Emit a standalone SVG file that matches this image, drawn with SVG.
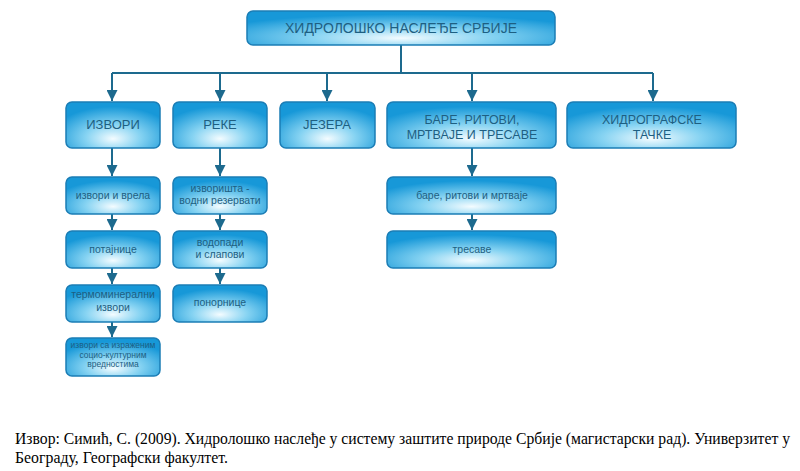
<svg xmlns="http://www.w3.org/2000/svg" width="800" height="471" viewBox="0 0 800 471">
<defs>
<radialGradient id="g" cx="50%" cy="75%" r="65%" fx="50%" fy="80%">
<stop offset="0" stop-color="#f4fcff"/>
<stop offset="0.45" stop-color="#86d3f2"/>
<stop offset="1" stop-color="#1798d8"/>
</radialGradient>
<marker id="ah" markerWidth="12" markerHeight="11" refX="11" refY="5.5" orient="auto" markerUnits="userSpaceOnUse">
<path d="M0,0 L11,5.5 L0,11 Z" fill="#1d6a8e"/>
</marker>
<style>
.b{fill:url(#g);stroke:#1b7db5;stroke-width:1.5}
.t{font-family:"Liberation Sans",Arial,sans-serif;fill:#1e5f82;text-anchor:middle}
.h{font-size:13px}
.h2{font-size:12.5px}
.s{font-size:10.5px}
.c{fill:none;stroke:#1d6a8e;stroke-width:2}
.f{font-family:"Liberation Serif","Times New Roman",serif;font-size:16px;fill:#000}
</style>
</defs>
<g id="connectors">
<path class="c" d="M401,45 V73 M112,73 H653"/>
<path class="c" d="M112,73 V101" marker-end="url(#ah)"/>
<path class="c" d="M220,73 V101" marker-end="url(#ah)"/>
<path class="c" d="M327,73 V101" marker-end="url(#ah)"/>
<path class="c" d="M472,73 V101" marker-end="url(#ah)"/>
<path class="c" d="M653,73 V101" marker-end="url(#ah)"/>
<path class="c" d="M112,148 V176" marker-end="url(#ah)"/>
<path class="c" d="M112,214 V230" marker-end="url(#ah)"/>
<path class="c" d="M112,268 V284" marker-end="url(#ah)"/>
<path class="c" d="M112,322 V337" marker-end="url(#ah)"/>
<path class="c" d="M220,148 V176" marker-end="url(#ah)"/>
<path class="c" d="M220,214 V230" marker-end="url(#ah)"/>
<path class="c" d="M220,268 V284" marker-end="url(#ah)"/>
<path class="c" d="M472,148 V176" marker-end="url(#ah)"/>
<path class="c" d="M472,214 V230" marker-end="url(#ah)"/>
</g>
<g id="root"><rect class="b" x="247" y="11" width="308" height="34" rx="6"/><text class="t" x="401" y="33" font-size="14">ХИДРОЛОШКО НАСЛЕЂЕ СРБИЈЕ</text></g>
<g id="izvori"><rect class="b" x="66" y="102" width="94" height="46" rx="6"/><text class="t h" x="113" y="129">ИЗВОРИ</text></g>
<g id="reke"><rect class="b" x="173" y="102" width="94" height="46" rx="6"/><text class="t h" x="220" y="129">РЕКЕ</text></g>
<g id="jezera"><rect class="b" x="280" y="102" width="95" height="46" rx="6"/><text class="t h" x="327" y="129">ЈЕЗЕРА</text></g>
<g id="bare"><rect class="b" x="387" y="102" width="169" height="46" rx="6"/><text class="t h2" x="472" y="124">БАРЕ, РИТОВИ,</text><text class="t h2" x="472" y="138.5">МРТВАЈЕ И ТРЕСАВЕ</text></g>
<g id="hidro"><rect class="b" x="567" y="102" width="169" height="46" rx="6"/><text class="t h2" x="652" y="124">ХИДРОГРАФСКЕ</text><text class="t h2" x="652" y="138.5">ТАЧКЕ</text></g>
<g id="izvori-vrela"><rect class="b" x="66" y="177" width="94" height="37" rx="6"/><text class="t s" x="113" y="199">извори и врела</text></g>
<g id="potajnice"><rect class="b" x="66" y="231" width="94" height="37" rx="6"/><text class="t s" x="113" y="253">потајнице</text></g>
<g id="termo"><rect class="b" x="66" y="285" width="94" height="37" rx="6"/><text class="t s" x="113" y="298">термоминерални</text><text class="t s" x="113" y="311">извори</text></g>
<g id="socio"><rect class="b" x="66" y="338" width="94" height="38" rx="6"/><text class="t" font-size="8.5" x="113" y="348">извори са израженим</text><text class="t" font-size="8.5" x="113" y="357.5">социо-културним</text><text class="t" font-size="8.5" x="113" y="367">вредностима</text></g>
<g id="izvorista"><rect class="b" x="173" y="177" width="94" height="37" rx="6"/><text class="t s" x="220" y="192">изворишта -</text><text class="t s" x="220" y="204">водни резервати</text></g>
<g id="vodopadi"><rect class="b" x="173" y="231" width="94" height="37" rx="6"/><text class="t s" x="220" y="246">водопади</text><text class="t s" x="220" y="258">и слапови</text></g>
<g id="ponornice"><rect class="b" x="173" y="285" width="94" height="37" rx="6"/><text class="t s" x="220" y="306">понорнице</text></g>
<g id="bare-sub"><rect class="b" x="387" y="177" width="169" height="37" rx="6"/><text class="t s" x="472" y="199">баре, ритови и мртваје</text></g>
<g id="tresave"><rect class="b" x="387" y="231" width="169" height="37" rx="6"/><text class="t s" x="472" y="253">тресаве</text></g>
<text class="f" x="15" y="444" textLength="775" lengthAdjust="spacingAndGlyphs">Извор: Симић, С. (2009). Хидролошко наслеђе у систему заштите природе Србије (магистарски рад). Универзитет у</text>
<text class="f" x="15" y="463" textLength="213" lengthAdjust="spacingAndGlyphs">Београду, Географски факултет.</text>
</svg>
